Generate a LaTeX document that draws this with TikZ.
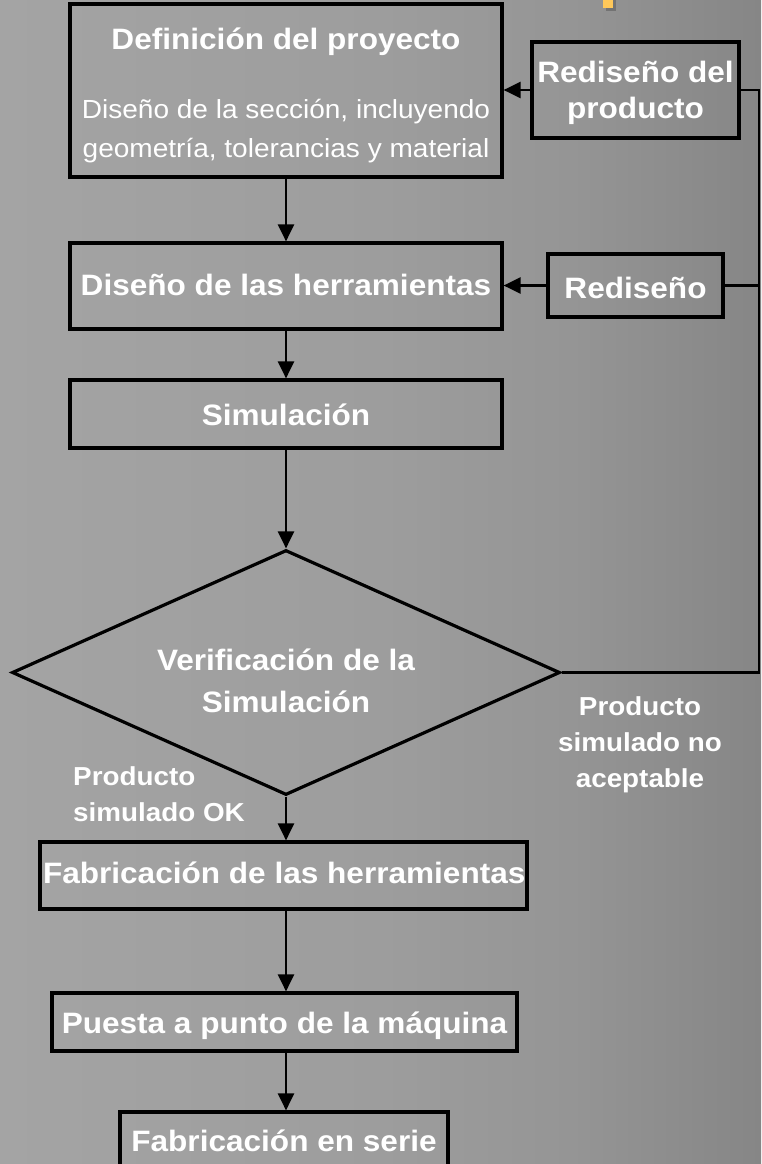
\documentclass[tikz,border=0pt]{standalone}
\usepackage{fontspec}
\setmainfont{Liberation Sans}[FakeStretch=1.07]
\usetikzlibrary{arrows.meta,shapes.geometric}
\definecolor{bgA}{RGB}{164,164,164}
\definecolor{bgB}{RGB}{157,157,157}
\definecolor{bgC}{RGB}{149,149,149}
\definecolor{bgD}{RGB}{134,134,134}
\definecolor{markyellow}{RGB}{255,200,90}
\pgfdeclarehorizontalshading{bgshade}{100bp}{color(0bp)=(bgA); color(25bp)=(bgA); color(50bp)=(bgB); color(62.5bp)=(bgC); color(75bp)=(bgD); color(100bp)=(bgD)}
\begin{document}
\begin{tikzpicture}[x=1pt,y=-1pt,
  box/.style={draw=black,line width=3.2pt,inner sep=0pt,text=white,align=center,text depth=0pt,
    font=\bfseries\fontsize{29.5}{36}\selectfont},
  bigtext/.style={text=white,inner sep=0pt,font=\bfseries\fontsize{29.5}{36}\selectfont},
  subtext/.style={text=white,inner sep=0pt,font=\fontsize{26.2}{39}\selectfont},
  labtext/.style={text=white,inner sep=0pt,font=\bfseries\fontsize{26}{36}\selectfont},
  conn/.style={line width=2.5pt,-{Triangle[length=17pt,width=16pt]}},
  rail/.style={line width=2.5pt},
]
\useasboundingbox (0,0) rectangle (761,1164);
\shade[shading=bgshade] (0,0) rectangle (761,1164);
% yellow mark
\fill[black!55] (606,-3) rectangle (616,11);
\fill[markyellow] (603,-3) rectangle (613,8);

% boxes
\node[box, minimum width=432pt, minimum height=173pt] (def) at (286,90.5) {};
\node[bigtext, anchor=base] (deft) at (286,49) {Definición del proyecto};
\node[subtext, anchor=base, align=center] (defs) at (286,157) {Diseño de la sección, incluyendo\\geometría, tolerancias y material};

\node[box, minimum width=207pt, minimum height=96pt] (redprod) at (635.5,90) {Rediseño del\\producto};

\node[box, minimum width=432pt, minimum height=86pt, text height=18pt] (dis) at (286,286) {Diseño de las herramientas};
\node[box, minimum width=175pt, minimum height=63pt, text height=25pt] (redis) at (635.5,285.5) {Rediseño};

\node[box, minimum width=432pt, minimum height=68pt, text height=22pt] (sim) at (286,414) {Simulación};

\node[box, shape=diamond, aspect=2.24, minimum width=548pt, minimum height=245pt] (dia) at (286,672.5) {\rule{0pt}{38pt}Verificación de la\\[6pt]Simulación};

\node[box, minimum width=487pt, minimum height=67pt, text height=15pt] (fab) at (283.5,875.5) {\makebox[481pt][l]{Fabricación de las herramientas}};
\node[box, minimum width=465pt, minimum height=58pt, text height=22pt] (puesta) at (284.5,1022) {Puesta a punto de la máquina};
\node[box, minimum width=328pt, minimum height=64pt, text height=14pt] (serie) at (284,1144) {Fabricación en serie};

% labels
\node[labtext, anchor=base west, align=left] (okl) at (73,821) {Producto\\simulado OK};
\node[labtext, anchor=base, align=center] (nol) at (640,787) {Producto\\simulado no\\aceptable};

\coordinate (railx) at (759,0);

% connectors
\draw[conn] (def.south) -- (def.south |- dis.north);
\draw[conn] (dis.south) -- (dis.south |- sim.north);
\draw[conn] (sim.south) -- (sim.south |- dia.north);
\draw[conn] (dia.south) -- (dia.south |- fab.north);
\draw[conn] (dia.south |- fab.south) -- (dia.south |- puesta.north);
\draw[conn] (dia.south |- puesta.south) -- (dia.south |- serie.north);
\draw[conn] (redprod.west) -- (redprod.west -| def.east);
\draw[conn] (redis.west) -- (redis.west -| dis.east);
\draw[rail] (dia.east) -- (dia.east -| railx) -- (redprod.east -| railx) -- (redprod.east);
\draw[rail] (redis.east) -- (redis.east -| railx);
\end{tikzpicture}
\end{document}
